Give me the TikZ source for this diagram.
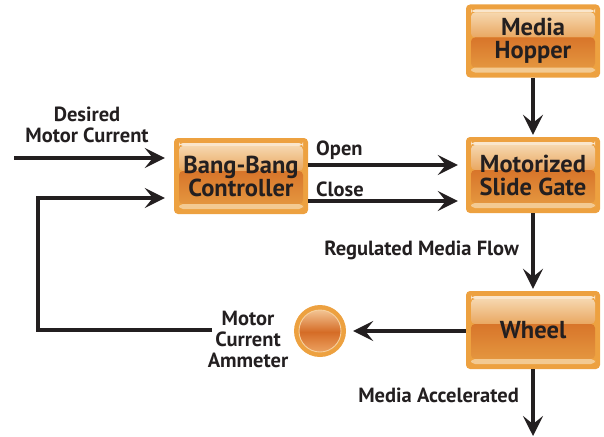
\documentclass[tikz,border=0pt]{standalone}
\usepackage{fontspec}
\setmainfont{PT Sans}
\usetikzlibrary{arrows.meta}

\definecolor{ink}{HTML}{231F20}
\definecolor{rim}{HTML}{EDA140}
\definecolor{hiband}{HTML}{FAE6CC}
\definecolor{upperA}{HTML}{F6D7AE}
\definecolor{upperB}{HTML}{E9A761}
\definecolor{lowerA}{HTML}{D8752A}
\definecolor{lowerB}{HTML}{E4963F}
\definecolor{loband}{HTML}{F3CA92}
\definecolor{ballTop}{HTML}{F4C898}
\definecolor{ballMid}{HTML}{D56C26}
\definecolor{ballBot}{HTML}{EDA463}

\tikzset{
  gbox/.style={rounded corners=4pt, fill=rim, minimum width=134pt,
    minimum height=#1, inner sep=0pt, align=center, text=ink,
    font=\bfseries\fontsize{24.5}{23}\selectfont,
    path picture={
      % light strip along the top
      \fill[hiband] ([shift={(5pt,-5pt)}]path picture bounding box.north west)
        rectangle ([shift={(-5pt,-8pt)}]path picture bounding box.north east);
      % upper glossy half
      \shade[top color=upperA, bottom color=upperB]
        ([shift={(5pt,-8pt)}]path picture bounding box.north west)
        rectangle ([shift={(-5pt,-33pt)}]path picture bounding box.north east);
      % lower deep half
      \shade[top color=lowerA, bottom color=lowerB]
        ([shift={(5pt,-33pt)}]path picture bounding box.north west)
        rectangle ([shift={(-5pt,10pt)}]path picture bounding box.south east);
      % light strip along the bottom
      \fill[loband] ([shift={(5pt,10pt)}]path picture bounding box.south west)
        rectangle ([shift={(-5pt,5pt)}]path picture bounding box.south east);
    }},
  gbox/.default=76pt,
  ball/.style={circle, fill=rim, minimum size=52pt, inner sep=0pt,
    path picture={
      \begin{scope}
        \clip (path picture bounding box.center) circle (21pt);
        \shade[top color=ballTop, bottom color=ballMid]
          ([shift={(-22pt,22pt)}]path picture bounding box.center)
          rectangle ([shift={(22pt,-1pt)}]path picture bounding box.center);
        \shade[top color=ballMid, bottom color=ballBot]
          ([shift={(-22pt,-1pt)}]path picture bounding box.center)
          rectangle ([shift={(22pt,-22pt)}]path picture bounding box.center);
      \end{scope}
      \draw[line width=0.9pt, color=white!50!rim]
        (path picture bounding box.center) circle (21pt);
    }},
  lbl/.style={text=ink, font=\bfseries\fontsize{20.5}{21}\selectfont, inner sep=0pt, align=center},
  arr/.style={draw=ink, line width=3.8pt,
    -{Stealth[length=20pt, width=20pt, inset=8pt]}},
}

\begin{document}
\begin{tikzpicture}[x=1pt, y=-1pt]
  \useasboundingbox (0,0) rectangle (604,436);

  % blocks
  \node[gbox=73pt] (hopper) at (533,41) {Media\\Hopper};
  \node[gbox] (gate) at (533,175) {Motorized\\Slide Gate};
  \node[gbox] (ctrl) at (241,176) {Bang-Bang\\Controller};
  \node[gbox=78pt] (wheel) at (533,330) {Wheel};

  % ammeter lamp: orange ring with a glossy core
  \node[ball] (amm) at (320,331) {};

  % helper coordinates for the wire levels and free ends
  \coordinate (src) at (14,158);
  \coordinate (openY) at (0,165);
  \coordinate (closeY) at (0,201);
  \coordinate (fbY) at (0,198);
  \coordinate (fbEnd) at (212,330);
  \coordinate (fbCorner) at (38,330);
  \coordinate (out) at (533,436);

  % labels
  \node[lbl] (desired) at (87,125) {Desired\\Motor Current};
  \node[lbl, anchor=west] (openL) at (316,150) {Open};
  \node[lbl, anchor=west] (closeL) at (316,189) {Close};
  \node[lbl, anchor=east] (flowL) at (519,250) {Regulated Media Flow};
  \node[lbl, anchor=east] (accL) at (519,395) {Media Accelerated};
  \node[lbl] (ammL) at (248,339) {Motor\\Current\\Ammeter};

  % connectors
  \draw[arr] (src) -- ([xshift=-9pt]ctrl.west |- src);
  \draw[arr] (ctrl.east |- openY) -- ([xshift=-8pt]gate.west |- openY);
  \draw[arr] (ctrl.east |- closeY) -- ([xshift=-8pt]gate.west |- closeY);
  \draw[arr] (hopper.south) -- ([yshift=2pt]gate.north);
  \draw[arr] (gate.south) -- ([yshift=2pt]wheel.north);
  \draw[arr] (wheel.south) -- (out);
  \draw[arr] (wheel.west |- amm) -- ([xshift=7pt]amm.east);
  \draw[arr, line join=miter] (fbEnd) -- (fbCorner) -- (fbCorner |- fbY)
    -- ([xshift=-9pt]ctrl.west |- fbY);
\end{tikzpicture}
\end{document}
